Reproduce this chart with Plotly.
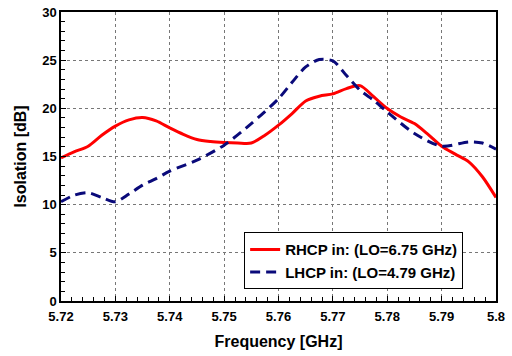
import plotly.graph_objects as go

freq_rhcp = [5.72, 5.7225, 5.725, 5.7275, 5.73, 5.7325, 5.735, 5.7375, 5.74, 5.7425,
             5.745, 5.7475, 5.75, 5.7525, 5.755, 5.7575, 5.76, 5.7625, 5.765, 5.7675,
             5.77, 5.7725, 5.775, 5.7775, 5.78, 5.7825, 5.785, 5.7875, 5.79, 5.7925,
             5.795, 5.7975, 5.8]
iso_rhcp = [14.86, 15.5, 16.07, 17.2, 18.15, 18.8, 19.05, 18.7, 17.97, 17.3,
            16.76, 16.55, 16.45, 16.4, 16.4, 17.2, 18.25, 19.46, 20.77, 21.26,
            21.5, 22.05, 22.36, 21.2, 19.98, 19.1, 18.42, 17.3, 16.07, 15.25,
            14.45, 12.9, 10.75]

freq_lhcp = [5.72, 5.7225, 5.725, 5.7275, 5.73, 5.7325, 5.735, 5.7375, 5.74, 5.745,
             5.75, 5.755, 5.76, 5.7625, 5.765, 5.7675, 5.77, 5.7725, 5.775, 5.7775,
             5.78, 5.785, 5.79, 5.795, 5.7975, 5.8]
iso_lhcp = [10.3, 11.0, 11.23, 10.75, 10.3, 11.1, 12.03, 12.7, 13.48, 14.62,
            16.18, 18.42, 21.0, 22.7, 24.3, 25.06, 24.92, 23.4, 21.88, 20.84,
            19.63, 17.39, 16.07, 16.52, 16.4, 15.76]

x_ticks = [5.72, 5.73, 5.74, 5.75, 5.76, 5.77, 5.78, 5.79, 5.8]
x_tick_labels = ["5.72", "5.73", "5.74", "5.75", "5.76", "5.77", "5.78", "5.79", "5.8"]
y_ticks = [0, 5, 10, 15, 20, 25, 30]

font_family = "Liberation Sans, Arial, sans-serif"

fig = go.Figure()
fig.add_trace(go.Scatter(x=freq_rhcp, y=iso_rhcp, mode="lines",
                         name="<b>RHCP in: (LO=6.75 GHz)</b>",
                         line=dict(color="#ff0000", width=3, shape="spline", smoothing=0.8)))
fig.add_trace(go.Scatter(x=freq_lhcp, y=iso_lhcp, mode="lines",
                         name="<b>LHCP in: (LO=4.79 GHz)</b>",
                         line=dict(color="#0a0a7a", width=3, dash="10px,6px", shape="spline", smoothing=0.8)))

axis_common = dict(
    showline=True, linecolor="black", linewidth=1.5, mirror=True,
    ticks="inside", ticklen=5, tickwidth=1, tickcolor="black",
    showgrid=True, gridcolor="#777777", griddash="dot", gridwidth=1,
    zeroline=False, automargin=False,
    tickfont=dict(family=font_family, size=13, color="black", weight="bold"),
)

fig.update_xaxes(range=[5.72, 5.8], tickvals=x_ticks, ticktext=x_tick_labels,
                 ticklabelstandoff=3,
                 minor=dict(dtick=0.002, ticks="inside", ticklen=4, tickcolor="black", showgrid=False),
                 title=dict(text="<b>Frequency [GHz]</b>", font=dict(family=font_family, size=16, color="black"), standoff=12),
                 **axis_common)
fig.update_yaxes(range=[0, 30], tickvals=y_ticks,
                 minor=dict(dtick=1, ticks="inside", ticklen=4, tickcolor="black", showgrid=False),
                 title=dict(text="<b>Isolation [dB]</b>", font=dict(family=font_family, size=16, color="black"), standoff=12),
                 **axis_common)

fig.update_layout(
    width=512, height=356,
    margin=dict(l=61, r=16, t=12, b=55, autoexpand=False),
    plot_bgcolor="white", paper_bgcolor="white",
    font=dict(family=font_family, color="black"),
    legend=dict(x=0.421, y=0.238, xanchor="left", yanchor="top",
                bgcolor="white", bordercolor="black", borderwidth=1,
                font=dict(family=font_family, size=15, color="black"),
                tracegroupgap=0, itemwidth=30),
    showlegend=True,
)

# remove the default 8px page margin so the figure sits at the window's corner
fig.write_html("out.html", config={"displayModeBar": False},
               post_script="document.body.style.margin='0px';")
